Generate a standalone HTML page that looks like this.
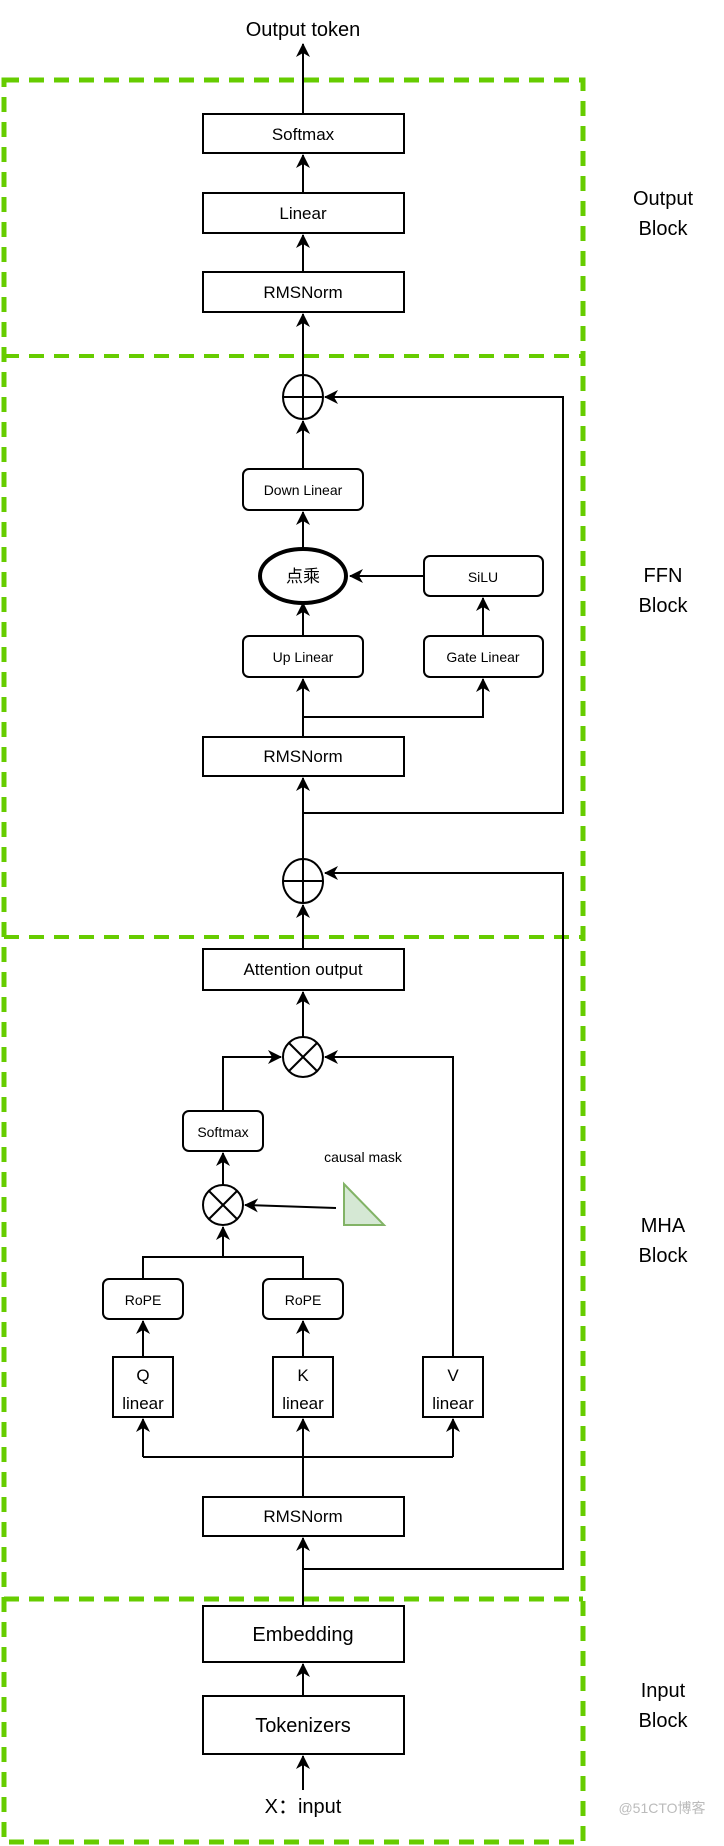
<!DOCTYPE html>
<html><head><meta charset="utf-8"><style>
html,body{margin:0;padding:0;background:#fff;}
svg{display:block;}
text{font-family:"Liberation Sans","Noto Sans CJK SC",sans-serif;fill:#000;}
</style></head><body>
<svg width="724" height="1846" viewBox="0 0 724 1846" xmlns="http://www.w3.org/2000/svg">
<defs>
<marker id="a" markerWidth="16" markerHeight="14" refX="13" refY="7" orient="auto" markerUnits="userSpaceOnUse">
<path d="M0,0 L14,7 L0,14 L4,7 Z" fill="#000"/>
</marker>
</defs>
<g fill="none" stroke="#66cc00" stroke-width="5" stroke-dasharray="15,10">
<rect x="4" y="80" width="579" height="1762"/>
<line x1="4" y1="356" x2="583" y2="356" stroke-width="4"/>
<line x1="4" y1="937" x2="583" y2="937" stroke-width="4"/>
<line x1="4" y1="1599" x2="583" y2="1599"/>
</g>
<g stroke="#000" stroke-width="2" fill="none">
<line x1="303" y1="114" x2="303" y2="44" marker-end="url(#a)"/>
<line x1="303" y1="193" x2="303" y2="155" marker-end="url(#a)"/>
<line x1="303" y1="272" x2="303" y2="235" marker-end="url(#a)"/>
<line x1="303" y1="377" x2="303" y2="314" marker-end="url(#a)"/>
<rect x="203" y="114" width="201" height="39" fill="#fff"/>
<rect x="203" y="193" width="201" height="40" fill="#fff"/>
<rect x="203" y="272" width="201" height="40" fill="#fff"/>
<ellipse cx="303" cy="397" rx="20" ry="22"/>
<line x1="283" y1="397" x2="323" y2="397"/><line x1="303" y1="375" x2="303" y2="419"/>
<polyline points="303,813 563,813 563,397 325,397" marker-end="url(#a)"/>
<line x1="303" y1="469" x2="303" y2="421" marker-end="url(#a)"/>
<line x1="303" y1="549" x2="303" y2="512" marker-end="url(#a)"/>
<line x1="424" y1="576" x2="350" y2="576" marker-end="url(#a)"/>
<line x1="303" y1="636" x2="303" y2="603" marker-end="url(#a)"/>
<line x1="483" y1="636" x2="483" y2="598" marker-end="url(#a)"/>
<line x1="303" y1="737" x2="303" y2="679" marker-end="url(#a)"/>
<polyline points="303,717 483,717 483,679" marker-end="url(#a)"/>
<rect x="243" y="469" width="120" height="41" rx="6" fill="#fff"/>
<ellipse cx="303" cy="576" rx="43" ry="27" stroke-width="4" fill="#fff"/>
<rect x="424" y="556" width="119" height="40" rx="6" fill="#fff"/>
<rect x="243" y="636" width="120" height="41" rx="6" fill="#fff"/>
<rect x="424" y="636" width="119" height="41" rx="6" fill="#fff"/>
<line x1="303" y1="859" x2="303" y2="778" marker-end="url(#a)"/>
<rect x="203" y="737" width="201" height="39" fill="#fff"/>
<ellipse cx="303" cy="881" rx="20" ry="22"/>
<line x1="283" y1="881" x2="323" y2="881"/><line x1="303" y1="859" x2="303" y2="903"/>
<polyline points="303,1569 563,1569 563,873 325,873" marker-end="url(#a)"/>
<line x1="303" y1="949" x2="303" y2="905" marker-end="url(#a)"/>
<rect x="203" y="949" width="201" height="41" fill="#fff"/>
<line x1="303" y1="1037" x2="303" y2="992" marker-end="url(#a)"/>
<circle cx="303" cy="1057" r="20"/>
<line x1="289" y1="1043" x2="317" y2="1071"/><line x1="317" y1="1043" x2="289" y2="1071"/>
<polyline points="223,1111 223,1057 281,1057" marker-end="url(#a)"/>
<polyline points="453,1357 453,1057 325,1057" marker-end="url(#a)"/>
<rect x="183" y="1111" width="80" height="40" rx="6" fill="#fff"/>
<line x1="223" y1="1185" x2="223" y2="1153" marker-end="url(#a)"/>
<circle cx="223" cy="1205" r="20"/>
<line x1="209" y1="1191" x2="237" y2="1219"/><line x1="237" y1="1191" x2="209" y2="1219"/>
<line x1="336" y1="1208" x2="245" y2="1205" marker-end="url(#a)"/>
<polyline points="143,1279 143,1257 303,1257 303,1279"/>
<line x1="223" y1="1257" x2="223" y2="1227" marker-end="url(#a)"/>
<rect x="103" y="1279" width="80" height="40" rx="6" fill="#fff"/>
<rect x="263" y="1279" width="80" height="40" rx="6" fill="#fff"/>
<line x1="143" y1="1357" x2="143" y2="1321" marker-end="url(#a)"/>
<line x1="303" y1="1357" x2="303" y2="1321" marker-end="url(#a)"/>
<rect x="113" y="1357" width="60" height="60" fill="#fff"/>
<rect x="273" y="1357" width="60" height="60" fill="#fff"/>
<rect x="423" y="1357" width="60" height="60" fill="#fff"/>
<polyline points="143,1457 453,1457"/>
<line x1="143" y1="1457" x2="143" y2="1419" marker-end="url(#a)"/>
<line x1="303" y1="1497" x2="303" y2="1419" marker-end="url(#a)"/>
<line x1="453" y1="1457" x2="453" y2="1419" marker-end="url(#a)"/>
<line x1="303" y1="1606" x2="303" y2="1538" marker-end="url(#a)"/>
<rect x="203" y="1497" width="201" height="39" fill="#fff"/>
<rect x="203" y="1606" width="201" height="56" fill="#fff"/>
<line x1="303" y1="1696" x2="303" y2="1664" marker-end="url(#a)"/>
<rect x="203" y="1696" width="201" height="58" fill="#fff"/>
<line x1="303" y1="1790" x2="303" y2="1756" marker-end="url(#a)"/>
</g>
<polygon points="344,1184 344,1225 384,1225" fill="#d5e8d4" stroke="#82b366" stroke-width="2"/>
<g text-anchor="middle">
<text x="303" y="36" font-size="20">Output token</text>
<text x="303" y="140" font-size="17">Softmax</text>
<text x="303" y="219" font-size="17">Linear</text>
<text x="303" y="298" font-size="17">RMSNorm</text>
<text x="303" y="495" font-size="14">Down Linear</text>
<text x="303" y="582" font-size="17">点乘</text>
<text x="483" y="582" font-size="14">SiLU</text>
<text x="303" y="662" font-size="14">Up Linear</text>
<text x="483" y="662" font-size="14">Gate Linear</text>
<text x="303" y="762" font-size="17">RMSNorm</text>
<text x="303" y="975" font-size="17">Attention output</text>
<text x="223" y="1137" font-size="14">Softmax</text>
<text x="363" y="1162" font-size="14">causal mask</text>
<text x="143" y="1305" font-size="14">RoPE</text>
<text x="303" y="1305" font-size="14">RoPE</text>
<text x="143" y="1381" font-size="17">Q</text><text x="143" y="1409" font-size="17">linear</text>
<text x="303" y="1381" font-size="17">K</text><text x="303" y="1409" font-size="17">linear</text>
<text x="453" y="1381" font-size="17">V</text><text x="453" y="1409" font-size="17">linear</text>
<text x="303" y="1522" font-size="17">RMSNorm</text>
<text x="303" y="1641" font-size="20">Embedding</text>
<text x="303" y="1732" font-size="20">Tokenizers</text>
<text x="303" y="1813" font-size="20">X：input</text>
<text x="663" y="205" font-size="20">Output</text><text x="663" y="235" font-size="20">Block</text>
<text x="663" y="582" font-size="20">FFN</text><text x="663" y="612" font-size="20">Block</text>
<text x="663" y="1232" font-size="20">MHA</text><text x="663" y="1262" font-size="20">Block</text>
<text x="663" y="1697" font-size="20">Input</text><text x="663" y="1727" font-size="20">Block</text>
<text x="662" y="1813" font-size="14" style="fill:#bbb">@51CTO博客</text>
</g>
</svg>
</body></html>
